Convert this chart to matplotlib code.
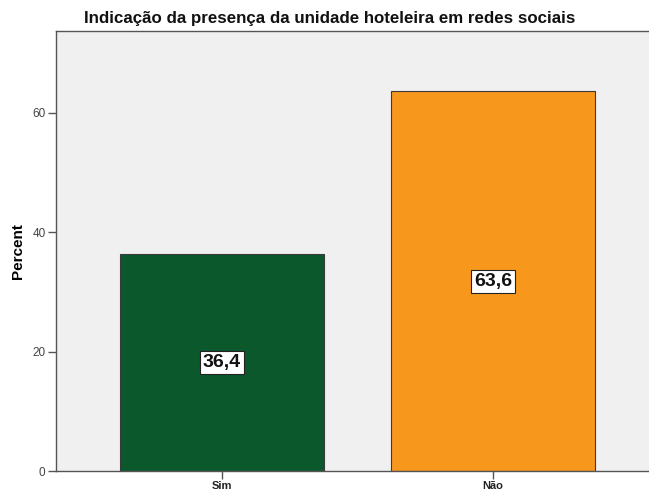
import matplotlib
matplotlib.use("Agg")
import matplotlib.pyplot as plt

categories = ["Sim", "Não"]
values = [36.4, 63.6]
value_labels = ["36,4", "63,6"]
colors = ["#0b582d", "#f7981d"]
yticks = [0, 20, 40, 60]

plt.rcParams['font.family'] = ['Liberation Sans', 'DejaVu Sans']

fig = plt.figure(figsize=(6.49, 4.93), dpi=100)
ax = fig.add_axes([56/649, 22/493, (650-56)/649, (471-31)/493])
ax.set_facecolor("#f0f0f0")

x = list(range(len(categories)))
ax.bar(x, values, width=0.756, color=colors, edgecolor="#3a3a3a", linewidth=0.8, zorder=2)
for xi, v, lab in zip(x, values, value_labels):
    ax.text(xi, v/2, lab, ha="center", va="center", fontsize=14, fontweight="bold",
            color="#111111", zorder=3,
            bbox=dict(boxstyle="square,pad=0.15", facecolor="white", edgecolor="#222222", linewidth=0.8))

ax.set_xlim(-0.613, 1.58)
ax.set_ylim(0, 73.7)
ax.set_xticks(x)
ax.set_xticklabels(categories, fontsize=8, fontweight="bold", color="#222222")
ax.set_yticks(yticks)
ax.set_yticklabels([str(t) for t in yticks], fontsize=8.5, color="#444444")
ax.tick_params(axis="both", length=6, width=1, color="#555555", pad=1.5)
ax.tick_params(axis="x", pad=1)
for s in ax.spines.values():
    s.set_color("#555555")
    s.set_linewidth(1)
ax.set_ylabel("Percent", fontsize=11, fontweight="bold")
ax.yaxis.set_label_coords((25-56)/594, 0.5)
fig.text(330/649, 1 - 18.5/493, "Indicação da presença da unidade hoteleira em redes sociais",
         fontsize=12.2, fontweight="bold", ha="center", va="center", color="#111111")

fig.savefig("out.png", dpi=100)
